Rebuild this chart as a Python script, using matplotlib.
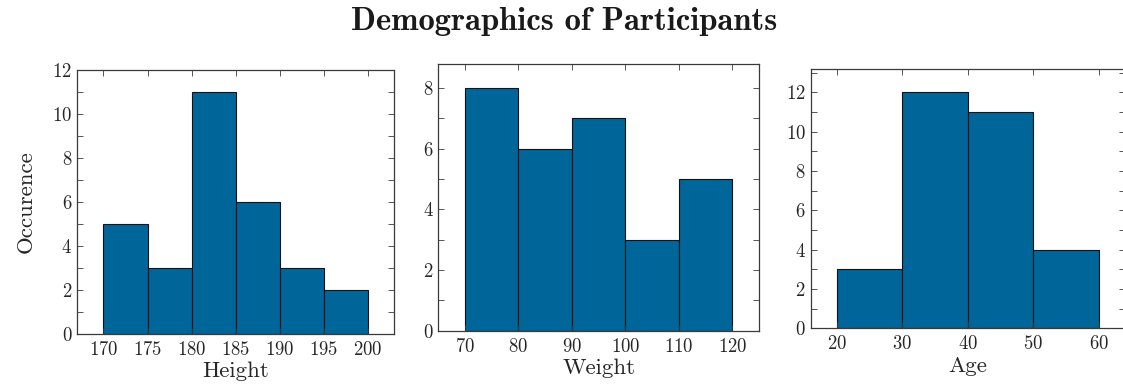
import numpy as np
import matplotlib
matplotlib.use("Agg")
import matplotlib.pyplot as plt
from matplotlib.ticker import MultipleLocator

# histogram bin edges and counts
height_edges = [170, 175, 180, 185, 190, 195, 200]
height_counts = [5, 3, 11, 6, 3, 2]
weight_edges = [70, 80, 90, 100, 110, 120]
weight_counts = [8, 6, 7, 3, 5]
age_edges = [20, 30, 40, 50, 60]
age_counts = [3, 12, 11, 4]

plt.rcParams['font.family'] = ['cmr10', 'DejaVu Serif']
plt.rcParams['axes.formatter.use_mathtext'] = True
plt.rcParams['mathtext.fontset'] = 'cm'

bar_color = '#006699'
spine_color = '#3a3a3a'

fig = plt.figure(figsize=(11.23, 3.85), dpi=100)

panels = [
    # edges, counts, label, rect, xlim, ylim, xstep
    (height_edges, height_counts, 'Height', [0.0686, 0.1325, 0.2825, 0.686], (167, 203), (0, 12), 5),
    (weight_edges, weight_counts, 'Weight', [0.3903, 0.1410, 0.2855, 0.6935], (65, 125), (0, 8.8), 10),
    (age_edges, age_counts, 'Age', [0.7219, 0.1472, 0.2800, 0.6745], (16, 64), (0, 13.2), 10),
]

axes = []
for edges, counts, label, rect, xlim, ylim, xstep in panels:
    ax = fig.add_axes(rect)
    edges = np.array(edges)
    ax.bar(edges[:-1], counts, width=np.diff(edges), align='edge',
           color=bar_color, edgecolor='#111111', linewidth=0.8)
    ax.set_xlim(*xlim)
    ax.set_ylim(*ylim)
    ax.xaxis.set_major_locator(MultipleLocator(xstep))
    ax.yaxis.set_major_locator(MultipleLocator(2))
    ax.yaxis.set_minor_locator(MultipleLocator(1))
    ax.tick_params(which='both', direction='in', top=True, right=True,
                   color=spine_color, labelcolor='#262626', labelsize=13.5)
    ax.tick_params(which='major', length=4, width=0.6)
    ax.tick_params(which='minor', length=4, width=0.6)
    ax.tick_params(axis='x', pad=5)
    for s in ax.spines.values():
        s.set_color(spine_color)
        s.set_linewidth(0.9)
    ax.set_xlabel(label, fontsize=16.5, color='#262626', labelpad=2)
    axes.append(ax)

axes[0].set_ylabel('Occurence', fontsize=16.5, color='#262626', labelpad=12)

fig.text(0.502, 0.945, 'Demographics of Participants', ha='center', va='center',
         fontsize=23.5, family='cmb10', color='#1a1a1a')

fig.savefig('out.png', dpi=100)
